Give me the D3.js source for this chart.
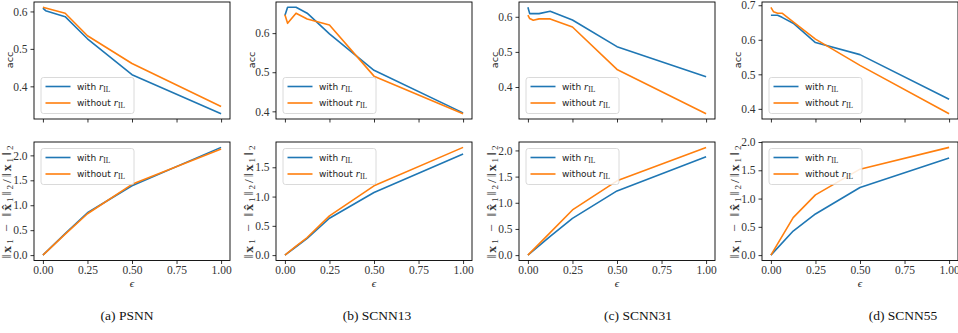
<!DOCTYPE html>
<html><head><meta charset="utf-8">
<script src="https://cdn.jsdelivr.net/npm/d3@7"></script>
<style>body{margin:0;background:#fff} svg{display:block}</style>
</head><body><svg id="c" width="958" height="333"></svg>
<script>
// ---------- data ----------
const xTicks = [0, 0.25, 0.5, 0.75, 1];
const xTickLabels = ["0.00", "0.25", "0.50", "0.75", "1.00"];
const accTicks = [0.4, 0.5, 0.6];
const accTicksD = [0.4, 0.5, 0.6, 0.7];
const normTicks = [0, 0.5, 1, 1.5, 2];
const normTicksB = [0, 0.5, 1, 1.5];
const seriesNames = ["with", "without"];
const captions = ["(a) PSNN", "(b) SCNN13", "(c) SCNN31", "(d) SCNN55"];

// (a) PSNN
const accEpsA = [0, 0.015, 0.125, 0.25, 0.5, 1];
const accWithA = [0.609, 0.602, 0.586, 0.527, 0.431, 0.327];
const accWithoutA = [0.611, 0.609, 0.595, 0.535, 0.461, 0.346];
const normEpsA = [0, 0.125, 0.25, 0.5, 1];
const normWithA = [0, 0.43, 0.85, 1.39, 2.16];
const normWithoutA = [0, 0.42, 0.83, 1.42, 2.13];

// (b) SCNN13
const accEpsB = [0, 0.015, 0.0625, 0.125, 0.25, 0.5, 1];
const accWithB = [0.645, 0.666, 0.666, 0.651, 0.598, 0.505, 0.396];
const accWithoutB = [0.647, 0.625, 0.651, 0.636, 0.621, 0.490, 0.394];
const normEpsB = [0, 0.0625, 0.125, 0.25, 0.5, 1];
const normWithB = [0, 0.143, 0.286, 0.63, 1.07, 1.726];
const normWithoutB = [0, 0.154, 0.30, 0.669, 1.183, 1.84];

// (c) SCNN31
const accEpsC = [0, 0.01, 0.03, 0.0625, 0.125, 0.25, 0.5, 1];
const accWithC = [0.627, 0.609, 0.609, 0.609, 0.616, 0.591, 0.515, 0.429];
const accWithoutC = [0.605, 0.595, 0.590, 0.594, 0.594, 0.571, 0.450, 0.324];
const normEpsC = [0, 0.125, 0.25, 0.5, 1];
const normWithC = [0, 0.36, 0.703, 1.227, 1.879];
const normWithoutC = [0, 0.43, 0.863, 1.419, 2.058];

// (d) SCNN55
const accEpsD = [0, 0.015, 0.0375, 0.0625, 0.125, 0.25, 0.5, 1];
const accWithD = [0.671, 0.671, 0.671, 0.665, 0.648, 0.592, 0.557, 0.428];
const accWithoutD = [0.694, 0.681, 0.677, 0.677, 0.652, 0.602, 0.526, 0.386];
const normEpsD = [0, 0.125, 0.25, 0.5, 1];
const normWithD = [0, 0.426, 0.728, 1.195, 1.716];
const normWithoutD = [0, 0.663, 1.065, 1.52, 1.905];

// ---------- layout ----------
const colors = ["#1f77b4", "#ff7f0e"];
const lefts = [34, 276, 519, 762];
const axW = 196;
const topRow = [2, 119];
const botRow = [142, 260.5];
const capX = [127, 377, 638, 903];

const panels = [
  {acc: [accEpsA, accWithA, accWithoutA], accT: accTicks, norm: [normEpsA, normWithA, normWithoutA], normT: normTicks},
  {acc: [accEpsB, accWithB, accWithoutB], accT: accTicks, norm: [normEpsB, normWithB, normWithoutB], normT: normTicksB},
  {acc: [accEpsC, accWithC, accWithoutC], accT: accTicks, norm: [normEpsC, normWithC, normWithoutC], normT: normTicks},
  {acc: [accEpsD, accWithD, accWithoutD], accT: accTicksD, norm: [normEpsD, normWithD, normWithoutD], normT: normTicks},
];

const svg = d3.select("#c");
svg.append("rect").attr("width", 958).attr("height", 333).attr("fill", "#fff");
const tickFont = "'Liberation Serif', 'DejaVu Serif', serif";

function legend(g, x0, y0) {
  const lg = g.append("g").attr("transform", `translate(${x0},${y0})`);
  lg.append("rect").attr("width", 93).attr("height", 36).attr("rx", 2.5)
    .attr("fill", "#fff").attr("fill-opacity", 0.85).attr("stroke", "#d0d0d0").attr("stroke-width", 0.8);
  seriesNames.forEach((n, i) => {
    const yy = 9 + i * 16.5;
    lg.append("line").attr("x1", 4.5).attr("x2", 29.5).attr("y1", yy).attr("y2", yy)
      .attr("stroke", colors[i]).attr("stroke-width", 1.6);
    const t = lg.append("text").attr("x", 36).attr("y", yy + 3.3).attr("fill", "#222")
      .attr("font-family", "'DejaVu Sans', sans-serif").attr("font-size", 9);
    t.append("tspan").text(n + " ");
    t.append("tspan").attr("font-family", tickFont).attr("font-style", "italic").attr("font-size", 11).text("r");
    t.append("tspan").attr("font-family", tickFont).attr("font-size", 7.5).attr("dy", 2).text("IL");
  });
}

function drawAxes(p, left, row, xs, ys, ticks, showX, yFmt) {
  const g = svg.append("g");
  const x = d3.scaleLinear().domain([-0.05, 1.05]).range([left, left + axW]);
  const lo = d3.min(ys.flat()), hi = d3.max(ys.flat());
  const pad = (hi - lo) * 0.05;
  const y = d3.scaleLinear().domain([lo - pad, hi + pad]).range([row[1], row[0]]);

  const xa = d3.axisBottom(x).tickValues(xTicks).tickSize(3.5).tickSizeOuter(0).tickPadding(1.5)
    .tickFormat((d, i) => showX ? xTickLabels[i] : "");
  const gx = g.append("g").attr("transform", `translate(0,${row[1]})`).call(xa);
  const ya = d3.axisLeft(y).tickValues(ticks).tickSize(3.5).tickSizeOuter(0).tickPadding(3).tickFormat(yFmt);
  const gy = g.append("g").attr("transform", `translate(${left},0)`).call(ya);
  [gx, gy].forEach(a => {
    a.select(".domain").remove();
    a.selectAll("line").attr("stroke", "#000").attr("stroke-width", 0.8);
    a.selectAll("text").attr("font-family", tickFont).attr("font-size", 11.5).attr("fill", "#333");
  });

  const line = d3.line().x(d => x(d[0])).y(d => y(d[1]));
  ys.forEach((s, i) => {
    g.append("path").datum(xs.map((e, k) => [e, s[k]])).attr("d", line)
      .attr("fill", "none").attr("stroke", colors[i]).attr("stroke-width", 1.6)
      .attr("stroke-linejoin", "round");
  });
  g.append("rect").attr("x", left).attr("y", row[0]).attr("width", axW).attr("height", row[1] - row[0])
    .attr("fill", "none").attr("stroke", "#000").attr("stroke-width", 0.9);
  return g;
}

panels.forEach((p, i) => {
  const L = lefts[i];
  const gt = drawAxes(p, L, topRow, p.acc[0], [p.acc[1], p.acc[2]], p.accT, false, d3.format(".1f"));
  legend(gt, L + 7, 77.5);
  const gb = drawAxes(p, L, botRow, p.norm[0], [p.norm[1], p.norm[2]], p.normT, true, d3.format(".1f"));
  legend(gb, L + 7, 148.5);

  // y label top
  svg.append("text").attr("transform", `translate(${L - 21},60) rotate(-90)`)
    .attr("text-anchor", "middle").attr("font-family", "'DejaVu Sans', sans-serif")
    .attr("font-size", 9.5).attr("fill", "#222").text("acc");

  // y label bottom: ||x1 - x^1||2/||x1||2
  const fs = 13.5, ss = 9;
  const t = svg.append("text").attr("transform", `translate(${L - 23.5},202) rotate(-90)`)
    .attr("text-anchor", "middle").attr("font-family", tickFont).attr("font-size", fs)
    .attr("fill", "#333").attr("textLength", 113).attr("lengthAdjust", "spacing");
  const parts = [
    ["‖", 0, fs, false], ["x", 0, fs, true], ["1", 2.5, ss, false], [" − ‖", -2.5, fs, false],
    ["x\u0302", 0, fs, true], ["1", 2.5, ss, false], ["‖", -2.5, fs, false], ["2", 2.5, ss, false],
    ["/‖", -2.5, fs, false], ["x", 0, fs, true], ["1", 2.5, ss, false], ["‖", -2.5, fs, false], ["2", 2.5, ss, false]
  ];
  parts.forEach(([s, dy, f, b]) => {
    const ts = t.append("tspan").attr("dy", dy).attr("font-size", f).text(s);
    if (b) ts.attr("font-weight", "bold");
  });

  // x label
  svg.append("text").attr("x", L + axW / 2).attr("y", 287).attr("text-anchor", "middle")
    .attr("font-family", tickFont).attr("font-style", "italic").attr("font-size", 11).attr("fill", "#222").text("ϵ");

  // caption
  svg.append("text").attr("x", capX[i]).attr("y", 320).attr("text-anchor", "middle")
    .attr("font-family", tickFont).attr("font-size", 13.5).attr("fill", "#111").text(captions[i]);
});
</script>
</body></html>
